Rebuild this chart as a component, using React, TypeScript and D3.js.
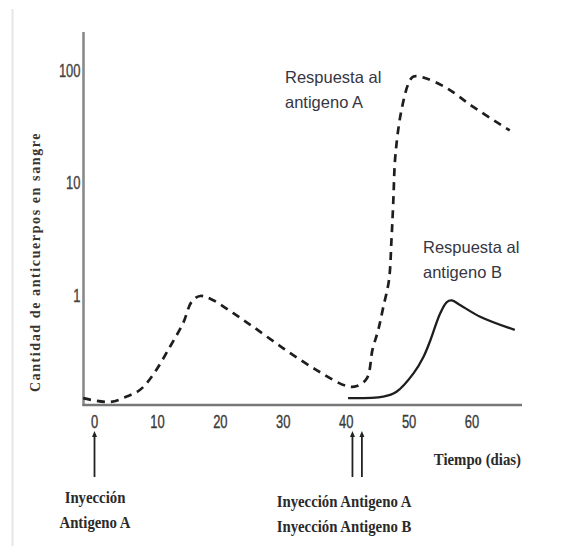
import React from "react";
import * as d3 from "d3";

// Respuesta al antigeno A (dias, cantidad)
const diasA = [-1.8, 2.5, 5.1, 7.2, 9.3, 12.0, 14.1, 15.45, 16.8, 18.8, 22.0, 25.2, 30.0, 35.3, 40.1, 41.7, 43.3, 44.2, 45.1, 45.9, 46.8, 47.2, 47.5, 47.8, 48.7, 50.0, 50.7, 52.5, 56.0, 60.2, 66.0];
const valoresA = [0.121, 0.112, 0.125, 0.143, 0.195, 0.347, 0.564, 0.872, 0.98, 0.903, 0.692, 0.523, 0.336, 0.215, 0.155, 0.155, 0.182, 0.33, 0.489, 0.782, 1.35, 3.08, 6.99, 16.8, 41.4, 78.2, 87.4, 85, 69, 47, 29];

// Respuesta al antigeno B
const diasB = [40.3, 45.9, 48.0, 50.7, 52.3, 53.4, 54.9, 56.0, 56.8, 58.1, 61.3, 66.8];
const valoresB = [0.121, 0.125, 0.138, 0.201, 0.283, 0.398, 0.678, 0.866, 0.894, 0.815, 0.641, 0.489];

const ticksX = [0, 10, 20, 30, 40, 50, 60];
const ticksY = [1, 10, 100];
const inyecciones = [0, 41, 42.5];

const W = 564;
const H = 546;

export default function App() {
  const x = d3.scaleLinear().domain([0, 60]).range([94.5, 472]);
  const y = d3.scaleLog().domain([1, 100]).range([295, 70]);

  const axisLeft = 83.5;
  const axisBottom = 405;

  const line = d3
    .line<[number, number]>()
    .x((d) => x(d[0]))
    .y((d) => y(d[1]))
    .curve(d3.curveCatmullRom.alpha(0.5));

  const datosA = diasA.map((d, i) => [d, valoresA[i]] as [number, number]);
  const datosB = diasB.map((d, i) => [d, valoresB[i]] as [number, number]);

  const serif = "'Liberation Serif', 'Times New Roman', serif";
  const sans = "'Liberation Sans', Arial, sans-serif";

  return (
    <svg width={W} height={H} style={{ position: "absolute", left: 0, top: 0, background: "#fff" }}>
      <line x1={12.5} x2={12.5} y1={9} y2={H} stroke="#e6e6e6" strokeWidth={2} />

      {/* ejes */}
      <line x1={axisLeft} x2={axisLeft} y1={32} y2={axisBottom + 1} stroke="#8a8a8a" strokeWidth={2.6} />
      <line x1={axisLeft - 1} x2={522} y1={axisBottom} y2={axisBottom} stroke="#777" strokeWidth={2.6} />

      {ticksY.map((t) => (
        <text
          key={t}
          transform={`translate(80.5,${y(t) + 6.5}) scale(0.74,1)`}
          textAnchor="end"
          fontFamily={sans}
          fontSize={17.5}
          fill="#444"
          stroke="#444"
          strokeWidth={0.35}
        >
          {t}
        </text>
      ))}
      {ticksX.map((t) => (
        <text
          key={t}
          transform={`translate(${x(t)},427.5) scale(0.74,1)`}
          textAnchor="middle"
          fontFamily={sans}
          fontSize={17.5}
          fill="#3a3a3a"
          stroke="#3a3a3a"
          strokeWidth={0.35}
        >
          {t}
        </text>
      ))}

      <text
        transform={`translate(40,262) rotate(-90)`}
        textAnchor="middle"
        fontFamily={serif}
        fontWeight="bold"
        fontSize={14}
        letterSpacing={1.6}
        fill="#3a3330"
      >
        Cantidad de anticuerpos en sangre
      </text>

      {/* curvas */}
      <path d={line(datosA) ?? ""} fill="none" stroke="#1e1e1e" strokeWidth={2.7} strokeDasharray="8 6" />
      <path d={line(datosB) ?? ""} fill="none" stroke="#1e1e1e" strokeWidth={2.3} />

      <text fontFamily={sans} fontSize={16.5} fill="#363642">
        <tspan x={285} y={83}>Respuesta al</tspan>
        <tspan x={285} y={108}>antigeno A</tspan>
      </text>
      <text fontFamily={sans} fontSize={16.5} fill="#363642">
        <tspan x={423} y={253}>Respuesta al</tspan>
        <tspan x={423} y={278}>antigeno B</tspan>
      </text>

      {/* flechas de inyección */}
      {inyecciones.map((d) => (
        <g key={d}>
          <line x1={x(d)} x2={x(d)} y1={434} y2={477} stroke="#222" strokeWidth={1.8} />
          <path d={`M${x(d)},${431} L${x(d) - 2.5},${437} L${x(d) + 2.5},${437} Z`} fill="#222" />
        </g>
      ))}

      <text
        transform="translate(521,465) scale(0.87,1)"
        textAnchor="end"
        fontFamily={serif}
        fontWeight="bold"
        fontSize={17}
        fill="#2a2a2a"
      >
        Tiempo (dias)
      </text>

      <g transform="translate(95,0) scale(0.87,1)">
        <text textAnchor="middle" fontFamily={serif} fontWeight="bold" fontSize={17} fill="#2a2a2a">
          <tspan x={0} y={503}>Inyección</tspan>
          <tspan x={0} y={528}>Antigeno A</tspan>
        </text>
      </g>
      <g transform="translate(344,0) scale(0.87,1)">
        <text textAnchor="middle" fontFamily={serif} fontWeight="bold" fontSize={17} fill="#2a2a2a">
          <tspan x={0} y={507}>Inyección Antigeno A</tspan>
          <tspan x={0} y={532}>Inyección Antigeno B</tspan>
        </text>
      </g>
    </svg>
  );
}
